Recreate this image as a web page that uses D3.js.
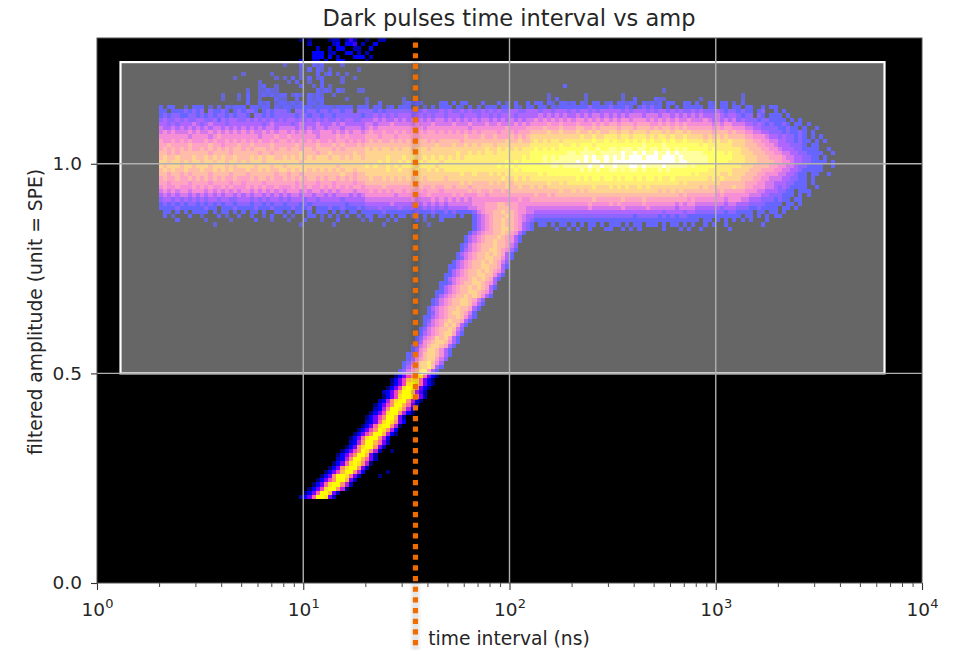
<!DOCTYPE html>
<html>
<head>
<meta charset="utf-8">
<script src="https://cdn.jsdelivr.net/npm/d3@7"></script>
<style>
html,body{margin:0;padding:0;background:#fff;}
svg{display:block;}
text{font-family:"DejaVu Sans",sans-serif;fill:#262626;}
</style>
</head>
<body>
<svg id="c" width="957" height="650"></svg>
<script>
// 2-D histogram: each entry is [amplitude bin, first time bin, bin levels]. "." means an empty bin.
const timeBinsPerDecade = 50;
const ampBinsPerUnit = 100;

// colormap position of each level character
const levelKeys = ["1","2","3","4","5","6","7","8","9","a","b","c","d","e"];
const levelVals = [0.12,0.18,0.25,0.33,0.40,0.48,0.55,0.62,0.70,0.78,0.86,0.92,0.95,1.0];

const topSparse = [
[129,49,"1.1....122.242..1..22"],
[128,49,"..2.....23.334.2..3"],
[127,49,"....2..2.33..22..3"],
[126,49,"...333.22..33.2.2."],
[125,49,"...333.3.2...333.2"],
[124,49,"2..22.2..33.....1."],
[123,45,"2...3..323....2"],
[122,49,"2.3.32.2......2"],
[121,35,"2......2......2...3.23.2.2"],
[120,33,"2.........2.2.3.2.3.23....2..2"],
[119,39,"2......2.3..2..3....2"],
[118,39,"23..2.....3..2.3.2"],
[118,113,"3"],
[117,36,"2..22322.........3232.32...22........."],
[117,137,"2"]
];

const bandRows = [
[116,15,".......... .....2...2 .3..232323 3.232.3232 ..2....... .......... .......... .......... .......... ....2..... ...2...... ..2....... .......... .......... .2"],
[115,15,".......... .....2...2 .3..2...32 2..3..3233 .....2.... 2........2 .......... .......... .......... ....2.3... ...2...... ..2..3.... 322....... .2........ .2"],
[114,15,".......... .......... .3..323.23 32323.3323 .......... 2..3.....2 3232....33 .3.33...3. ..3.2.3..3 .33.32.332 3.32.33.23 .33233.323 23.33..33. 3..32.33.2 .3"],
[113,15,"3.33..2.33 3.2.3.3233 3.33233.32 3323333233 3323333.33 3.33.23.33 3.3.2.3.33 3.32.3.3.3 33.33.32.3 3.33.32333 3333433334 33343.3434 33.3.3.333 33.33.33.3 3.33..3.33"],
[112,15,"33.3334343 4.43343.34 3443.34344 43.4434434 4344344.44 4434344444 4444544454 5445454454 5454455445 5545545554 5455454555 5545455545 4554545445 4544454344 3433.34..3 .3"],
[111,15,"3434433443 4343443434 43.4434344 4443443443 4434444443 4454545455 5455454554 5554555455 4545554555 5565656565 5656566565 6565666566 6566565656 5655565455 4344.43.33 3.3"],
[110,15,"4544545445 5445354554 4545454545 4554545454 5445455445 5565655656 5656565665 6565656566 5656565656 6767676767 6776767676 7677677767 6767676676 6676565656 4544434433 33.3.3"],
[109,15,"5545455565 4565554555 5555545655 5545655565 5565655555 6656667666 6676667666 6766676667 6676667676 7777877877 7877787878 8788878887 7878787877 7777676776 6655454343 343.33.3"],
[108,15,"6556565656 5656656565 6565656656 6665656566 5666566665 6767777777 7777677777 7777767777 7777877778 8889888988 8998898999 9899989998 9899898988 8888787887 7766554444 33433.3..3"],
[107,15,"6767666767 6676767676 7676676767 7676767667 7767676776 7877877878 7878788787 8787878788 8878887888 9999a99a99 9a99a9a99a a9aa9aaa9a aa9a9aa9a9 9999899989 8877665544 4343343.3."],
[106,15,"7777777677 7767877777 7777677787 7877777767 7778787777 8887888788 8888888888 8888988898 8988898989 aaaaaaaaaa aabaabaabb babbabbbab abbabaabaa aa9a9a9a99 9988777655 4544343.3. 3"],
[105,15,"8778787877 7878778787 8787877878 8787878787 7878878787 8989889898 9899989899 9998999999 9999a99a99 abababbabb bbbbbcbbcb cbbcbcbcbc bbcbcbbcbb bbababaaba aa99887766 55443433.3 .3"],
[104,15,"8898888988 8898878889 8898888988 8889888898 8898988898 9999999999 9999999a99 9a99a9a9aa a9aaaaaaaa bbbbbbbcbb cbcccbcccc cccccccdcc ccdccccccc cbcbbbbbba aa99988776 5554443.33"],
[103,15,"8989898988 9898989899 8989998989 9899899899 9989899999 a9a9aa9a9a a9aaa9aaaa aaaaaaaaab aababababb bcbcbcbccc cccdccdccd dcdddcddcd dcddcdcdcc cccbcbbbbb baa9998877 6555443333 ..3"],
[102,15,"9989899999 9989999899 9999899899 9999a99989 9a99999a99 aaaaaaaaaa aaaaaaaaaa aabaababab babbbbbbbb cccccccccd dcddddcddd ddeddededd eddededddd ddcccccbcb baaa999887 7665544333 3..3"],
[101,15,"9a99a999a9 9a9a9a99a9 99a9a9aa99 a9a9a9a9aa a9aa9a9aa9 aaaaabaaab abaabababa bababbbbbb bbbbbbbbcb cccdcdcddd dddededded ededeeedee edeeededdd dddccccccb bbaaa99988 8766554433 .3"],
[100,15,"aa9aa9a9aa 9aa9aa9aa9 a9aaa9aaaa aaaa9aaaaa aaaaaaaaaa aaababaaba babbabbbab bbbbbbbbbb bbbbcbcbcc cccdcddddd dededeeded eeeeeeeeee eeeeedeedd dddcccccbb bbaaa99998 8776554433 33.3"],
[99,15,"a9aaa9aa9a aa9aaa9a9a aaa9aaa9aa 9aaaaaaaaa aaa9aaaaaa babaababab bbabbbbabb bbbbbbbbbb bbcbccbccc cccccddcdd ddddeddedd edddeededd ddedddddcd cccccbbbbb baaa999988 7766544333 3..3"],
[98,15,"9a9a99a999 a99a9a9a99 9a99a9a99a a9a9aa9a9a 9a9a9aa9aa aaaaabaaba aabaababab bbbbbbbbbb bbbbbbcbcc cccccccccc ccdcdcdccd dcdcddcdcc cdcdcccccc cccbbbbbba aaa9998887 7665543333 3"],
[97,15,"9989989899 9989999899 9899999989 9899899999 9999a99899 aaaaaaaaaa aaaaaaaaaa aaabaabaaa bababbbbbb bbcbcccccc cccccccccc cccccccccc cccccccccb cbbbbbaaba aa99988777 6655433.33 ..3"],
[96,15,"8988988989 8989898898 8898998988 9898989989 8998989899 9a99a9a9a9 a9aa9aaaa9 aaaaaaaaaa aaabaababa bbbbbbbbbb bcbcbccbcc bcbccbcbcc bcbbcbbbbb bbbababaaa a999887766 6554433.3."],
[95,15,"8878888788 8878888788 7888878888 8887888878 8878888788 9999999999 9999999999 999a9a9999 a9a9a9aaaa aaaabaabab bbbbbbbbbb bbbbbbbbbb bbbbbbabaa aaaaaa9999 9988877665 5544333.3."],
[94,15,"7877877787 8787787877 7878787787 7787878778 7878787887 8888988888 8989889889 9899989999 9999a99a99 a9a9aaaaaa aaaaabaaab ababaababa aaaaaaaaaa a9a999999a 9988777665 4543333..3"],
[93,15,"6767677677 7676767676 7767676767 6777676776 7676777677 7878787887 8888788878 8888898988 9889899999 9999999a99 a9a9aaaaaa aaaaaaaaaa a9a9a9a999 9999989888 8877766555 4433.333.."],
[92,15,"5656566565 6565656656 5656656565 6566566566 5656665656 7777777677 7777787777 7878777887 8888888888 8988989999 9999999999 9999999999 9999998988 8888878777 7776665544 4333.3.3.."],
[91,15,"4554545454 5455455445 5545454554 5455545545 5555455555 6666666666 6766667676 7676767777 7777777877 8888888888 8888898888 8898888988 8888888878 7777777677 7665554443 433.33"],
[90,15,"3434343443 4343434434 4434434344 3444343444 4444434444 5555556555 5565656565 6666667778 8899888777 7777777777 7777877778 7877777877 7777767677 6666666566 5554444333 3.33.3"],
[89,15,"3333433333 3433.33343 3334333433 3343334.33 3433433343 4445444454 4544545454 5555566778 8899988776 6666666666 6666766666 6676666676 6666656666 5555554555 4443343333 .33.3"],
[88,15,".33.3.3.33 33.3.33.3. 3.33.3..33 .3.33.3.33 3.3.3.33.3 3333433333 3343334334 3433334678 899a998776 6555555555 5555555555 5555555555 5545555455 4444444344 3333.33.33 .3"],
[87,15,".3.2...3.. 2...3.2..3 ..3..2.3.. 3.2...33.2 .3.2.3..3. 33.32.3.33 .33.3.3.33 33.3..3567 8999a98765 5444444444 4444444444 4444434444 4343434433 3333333333 3.33.3.3.3 3"],
[86,15,"....3..... .2.....2.. ...3...2.. .2...3...2 ...3.....2 .3...2.3.. ..3.2...3. ......3567 899a998765 4333333333 3333333333 3333333333 3333333333 3.33.3.3.3 .3.3...3"],
[85,15,".......... ...2...... .......... ....2..... ..2....... ....2..... .....2.... ......3567 899a998754 3.33.3.33. 3.3.33.3.3 33.3.33.33 3.3.33.3.3 ..3.3..3.. ......3"],
[84,15,".......... .......... .......... .......... .......... .......... .......... ......3567 899aa98754 3.....3..3 .3..3...33 ..3.3.3... ..3...3.3. .3......3."]
];

const tailUpper = [
[83,90,"35678899a98753"],[82,89,"35678999a98753"],[81,89,"3567899a998753"],
[80,88,"34678999a99864"],[79,88,"3567899aa98753"],[78,87,"3567899a9a9853"],
[77,87,"3467899aa99753"],[76,86,"3567899a9a9864"],[75,85,"33567899aa99853"],
[74,85,"3567899a9a9875"],[73,84,"33567899aa99753"],[72,84,"3567889a9a9853"],
[71,83,"33467899aa9875"],[70,83,"3567899a9a9853"],[69,82,"33567899aa9875"],
[68,82,"3567899a9a9753"],[67,81,"3467899aa9864"],[66,81,"3467899aa9753"],
[65,80,"3567899a99853"],[64,80,"346789aa9863"],[63,79,"33567899a9753"],
[62,79,"346789a99853"],[61,79,"35678a9a853"],[60,78,"3467899a964"],
[59,78,"356789aa853"],[58,77,"34678a9a853"],[57,77,"35789aa9753"],
[56,76,"34679aa9853"],[55,76,"3578aa9753"],[54,75,"34679aa9753"],
[53,75,"35789aa864"],[52,74,"3468aab975"],[51,74,"3578aab953"],
[50,73,"34689bb853"]
];

const tailLower = [
[49,72,"13579bb8531"],[48,71,"1357abb8531"],[47,71,"1357bcb8531"],[46,70,"1357bcc9531"],
[45,69,"2357acca642"],[44,69,"1357bccb852"],[43,68,"2369bcc9631"],[42,67,"13579cca852"],
[41,67,"2369ccb963"],[40,66,"1357bcc9631"],[39,65,"13579cca52"],[38,65,"2358bcb953"],
[37,64,"1358bcc961"],[36,63,"13579cb963"],[35,62,"13579cca631"],[34,61,"1358bcc963"],
[33,61,"2369cca852"],[32,60,"1359bcc952"],[31,59,"13579cb962"],[31,71,"1"],[30,58,"13579cca52"],
[29,58,"2369cca852"],[28,57,"1358bcb961"],[27,56,"1359bcc952"],[26,55,"1357acc963"],[26,70,"1"],
[25,54,"1359ccb852"],[25,68,"1"],[24,53,"13579cca52"],[23,52,"1358bcc962"],[22,51,"1357bcc961"],
[21,50,"1358cca52"],[20,49,"2358ccb52"]
];

const xDomain = [1, 1e4];
const yDomain = [0, 1.3];
const xMajor = [1, 10, 100, 1000, 10000];
const xExponents = ["0","1","2","3","4"];
const xMinor = [2,3,4,5,6,7,8,9,20,30,40,50,60,70,80,90,200,300,400,500,600,700,800,900,2000,3000,4000,5000,6000,7000,8000,9000];
const yTicks = [0, 0.5, 1.0];
const boxTime = [1.3, 6580];
const boxAmp = [0.5, 1.2425];
const cutTime = [35];
const titleText = "Dark pulses time interval vs amp";
const xLabelText = "time interval (ns)";
const yLabelText = "filtered amplitude (unit = SPE)";

const M = {l:97, r:922, t:38, b:583};
const x = d3.scaleLog().domain(xDomain).range([M.l, M.r]);
const y = d3.scaleLinear().domain(yDomain).range([M.b, M.t]);
const svg = d3.select("#c");

// matplotlib gnuplot2 colormap
function gnuplot2(v){
  const c = t => Math.max(0, Math.min(1, t));
  const r = c(v/0.32 - 0.78125);
  const g = c(2*v - 0.84);
  const b = v < 0.25 ? c(4*v) : v < 0.42 ? 1 : v < 0.92 ? c(-2*v + 1.84) : c(v/0.08 - 11.5);
  return d3.rgb(r*255, g*255, b*255).formatHex();
}
const levelColor = d3.scaleOrdinal(levelKeys, levelVals.map(gnuplot2));

// axes background
svg.append("rect").attr("x",M.l).attr("y",M.t).attr("width",M.r-M.l).attr("height",M.b-M.t).attr("fill","#000");

// expand rows to bins
const cells = [];
[topSparse, bandRows, tailUpper, tailLower].forEach(group => {
  group.forEach(([row, start, s]) => {
    Array.from(s.replace(/ /g,"")).forEach((ch, i) => {
      if (ch !== ".") cells.push({row, col:start+i, ch});
    });
  });
});
svg.append("g").attr("shape-rendering","crispEdges").style("filter","blur(0.4px)")
  .selectAll("rect").data(cells).join("rect")
  .attr("x", d => x(Math.pow(10, d.col/timeBinsPerDecade)))
  .attr("width", d => x(Math.pow(10,(d.col+1)/timeBinsPerDecade)) - x(Math.pow(10,d.col/timeBinsPerDecade)))
  .attr("y", d => y(Math.min((d.row+1)/ampBinsPerUnit, yDomain[1])))
  .attr("height", d => y(d.row/ampBinsPerUnit) - y(Math.min((d.row+1)/ampBinsPerUnit, yDomain[1])))
  .attr("fill", d => levelColor(d.ch));

// selection box
svg.append("rect")
  .attr("x", x(boxTime[0])).attr("width", x(boxTime[1])-x(boxTime[0]))
  .attr("y", y(boxAmp[1])).attr("height", y(boxAmp[0])-y(boxAmp[1]))
  .attr("fill","#fff").attr("fill-opacity",0.4)
  .attr("stroke","#fff").attr("stroke-width",2.2);

// grid
const grid = svg.append("g").attr("stroke","#b0b0b0").attr("stroke-width",1.4);
grid.selectAll("line.v").data(xMajor.slice(1,-1)).join("line").attr("class","v")
  .attr("x1",d=>x(d)).attr("x2",d=>x(d)).attr("y1",M.t).attr("y2",M.b);
grid.selectAll("line.h").data(yTicks.slice(1)).join("line").attr("class","h")
  .attr("x1",M.l).attr("x2",M.r).attr("y1",d=>y(d)).attr("y2",d=>y(d));

// axes
const xAxisMinor = d3.axisBottom(x).tickValues(xMinor).tickSize(4).tickFormat("");
const xAxis = d3.axisBottom(x).tickValues(xMajor).tickSize(7).tickFormat("");
const yAxis = d3.axisLeft(y).tickValues(yTicks).tickSize(6).tickPadding(9).tickFormat(d3.format(".1f"));

svg.append("g").attr("transform",`translate(0,${M.b})`).call(xAxisMinor)
  .call(g=>g.select(".domain").remove())
  .call(g=>g.selectAll("line").attr("stroke","#333").attr("stroke-width",0.9));
const gx = svg.append("g").attr("transform",`translate(0,${M.b})`).call(xAxis)
  .call(g=>g.select(".domain").remove())
  .call(g=>g.selectAll("line").attr("stroke","#333").attr("stroke-width",1.1));
gx.selectAll(".tick").select("text").remove();
gx.selectAll(".tick").append("text")
  .attr("y",33).attr("text-anchor","middle").attr("font-size",18.5).attr("fill","#262626")
  .each(function(d,i){
    const t = d3.select(this);
    t.append("tspan").text("10");
    t.append("tspan").attr("dy",-8).attr("font-size",13).text(xExponents[i]);
  });

svg.append("g").attr("transform",`translate(${M.l},0)`).call(yAxis)
  .call(g=>g.select(".domain").remove())
  .call(g=>g.selectAll("line").attr("stroke","#333").attr("stroke-width",1.1))
  .call(g=>g.selectAll("text").attr("font-size",18.5).attr("fill","#262626").attr("font-family","DejaVu Sans"));

// spines
svg.append("rect").attr("x",M.l).attr("y",M.t).attr("width",M.r-M.l).attr("height",M.b-M.t)
  .attr("fill","none").attr("stroke","#555").attr("stroke-width",1);

// cut line
svg.selectAll("line.halo").data(cutTime).join("line").attr("class","halo")
  .attr("x1",d=>x(d)).attr("x2",d=>x(d)).attr("y1",M.t).attr("y2",650)
  .attr("stroke","#000").attr("stroke-opacity",0.1).attr("stroke-width",8).style("filter","blur(1.5px)");
svg.selectAll("line.cut").data(cutTime).join("line").attr("class","cut")
  .attr("x1",d=>x(d)).attr("x2",d=>x(d)).attr("y1",M.t).attr("y2",650)
  .attr("stroke","#ee6c00").attr("stroke-width",5.2)
  .attr("stroke-dasharray","5.2 5.47").attr("stroke-dashoffset",-4.5);

// labels
svg.append("text").attr("x",509).attr("y",26).attr("text-anchor","middle").attr("font-size",22.5).text(titleText);
svg.append("text").attr("x",509).attr("y",645).attr("text-anchor","middle").attr("font-size",18.7).text(xLabelText);
svg.append("text").attr("transform","translate(41.5,312) rotate(-90)").attr("text-anchor","middle").attr("font-size",18.7).text(yLabelText);
</script>
</body>
</html>
